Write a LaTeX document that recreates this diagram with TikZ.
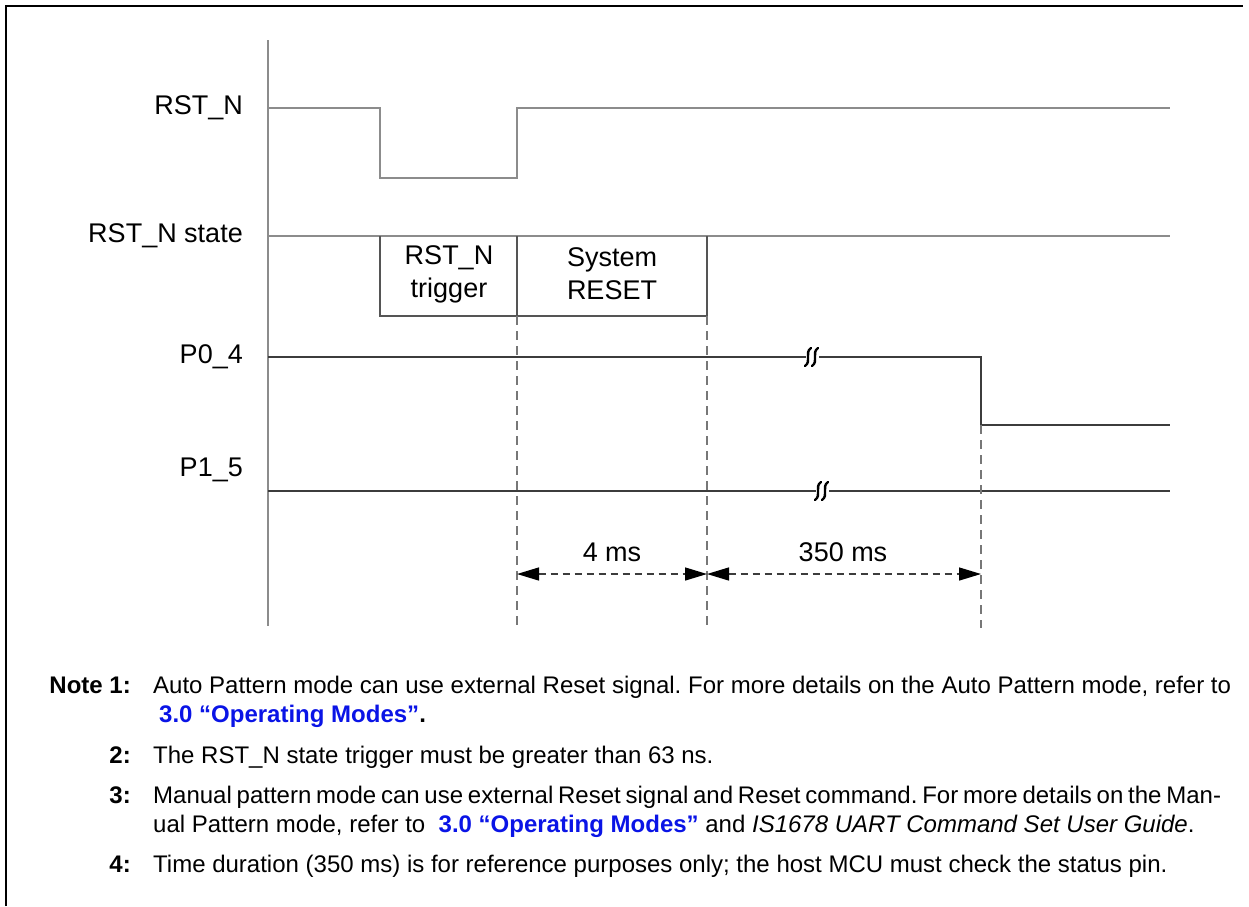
\documentclass[tikz,border=0pt]{standalone}
\usepackage{fontspec}
\setmainfont{Liberation Sans}
\usetikzlibrary{arrows.meta}
\definecolor{siggray}{HTML}{8C8C8C}
\definecolor{sigdark}{HTML}{3C3C3C}
\definecolor{boxgray}{HTML}{555555}
\definecolor{dashgray}{HTML}{777777}
\definecolor{linkblue}{HTML}{0A14E6}
\newcommand{\lnk}[1]{\textbf{\color{linkblue}#1}}
\frenchspacing
\begin{document}
\begin{tikzpicture}[x=1pt,y=-1pt,
  lbl/.style={font=\fontsize{27}{30}\selectfont, inner sep=0pt},
  boxtxt/.style={font=\fontsize{27}{33}\selectfont, align=center, inner sep=0pt},
  notetxt/.style={font=\fontsize{24}{26}\selectfont, inner sep=0pt, anchor=base west},
  notenum/.style={font=\fontsize{24}{26}\selectfont\bfseries, inner sep=0pt, anchor=base east},
  siglight/.style={draw=siggray, line width=1.6},
  sigheavy/.style={draw=sigdark, line width=1.6},
  guide/.style={draw=dashgray, line width=1.6, dash pattern=on 9pt off 6pt},
  dimline/.style={draw=sigdark, line width=1.4, dash pattern=on 7pt off 5pt,
     {Triangle[length=22pt,width=13pt,color=black]}-{Triangle[length=22pt,width=13pt,color=black]}},
  brk/.style={draw=black, line width=2.4, line cap=round}]
\useasboundingbox (0,0) rectangle (1249,906);
% frame
\draw[line width=2.6] (6,906) -- (6,6) -- (1243,6);
% axis
\draw[siglight] (268,40) -- (268,626);
% labels
\node[lbl, anchor=east] (lrst) at (243,108) {RST\_N};
\node[lbl, anchor=east] (lstate) at (243,236) {RST\_N state};
\node[lbl, anchor=east] (lp04) at (243,357) {P0\_4};
\node[lbl, anchor=east] (lp15) at (243,470) {P1\_5};
% RST_N signal
\coordinate (r0) at (268,108);
\coordinate (r1) at (380,108);
\coordinate (r2) at (380,178);
\coordinate (r3) at (517,178);
\coordinate (r4) at (517,108);
\coordinate (r5) at (1170,108);
\draw[siglight] (r0) -- (r1) -- (r2) -- (r3) -- (r4) -- (r5);
% RST_N state
\coordinate (s0) at (268,236);
\coordinate (s1) at (1170,236);
\draw[siglight] (s0) -- (s1);
\draw[draw=boxgray, line width=1.6] (380,236) -- (380,316) -- (707,316) -- (707,236);
\draw[draw=boxgray, line width=1.6] (517,236) -- (517,316);
\node[boxtxt] (trig) at (449,274) {RST\_N\\trigger};
\node[boxtxt] (sysr) at (612,274) {System\\RESET};
% P0_4
\coordinate (p0) at (268,357);
\coordinate (p1) at (981,357);
\coordinate (p2) at (981,425);
\coordinate (p3) at (1170,425);
\draw[sigheavy] (p0) -- (p1) -- (p2) -- (p3);
% P1_5
\coordinate (q0) at (268,491);
\coordinate (q1) at (1170,491);
\draw[sigheavy] (q0) -- (q1);
% break marks
\fill[white] (806,353) rectangle (819,361);
\draw[brk] (805,366) .. controls (812,361) and (804,353) .. (811,348);
\draw[brk] (812,366) .. controls (819,361) and (811,353) .. (818,348);
\fill[white] (816,487) rectangle (829,495);
\draw[brk] (815,500) .. controls (822,495) and (814,487) .. (821,482);
\draw[brk] (822,500) .. controls (829,495) and (821,487) .. (828,482);
% guides
\coordinate (g1t) at (517,316);
\coordinate (g1b) at (517,628);
\coordinate (g2t) at (707,316);
\coordinate (g2b) at (707,628);
\coordinate (g3t) at (981,425);
\coordinate (g3b) at (981,628);
\draw[guide] (g1t) -- (g1b);
\draw[guide] (g2t) -- (g2b);
\draw[guide] (g3t) -- (g3b);
% dimensions
\coordinate (d1) at (517,574);
\coordinate (d2) at (707,574);
\coordinate (d3) at (981,574);
\draw[dimline] (d1) -- (d2);
\draw[dimline] (d2) -- (d3);
\node[lbl] (t4) at (612,552) {4 ms};
\node[lbl] (t350) at (843,552) {350 ms};
% notes
\node[notenum] (n1) at (131,693) {Note 1:};
\node[notetxt] (n1a) at (153,693) {Auto Pattern mode can use external Reset signal. For more details on the Auto Pattern mode, refer to};
\node[notetxt] (n1b) at (159,722) {\lnk{3.0 “Operating Modes”}\textbf{.}};
\node[notenum] (n2) at (131,763) {2:};
\node[notetxt] (n2a) at (153,763) {The RST\_N state trigger must be greater than 63 ns.};
\node[notenum] (n3) at (131,803) {3:};
\node[notetxt] (n3a) at (153,803) {\spaceskip=0.2em Manual pattern mode can use external Reset signal and Reset command. For more details on the Man-};
\node[notetxt] (n3b) at (153,832) {ual Pattern mode, refer to\ \ \lnk{3.0 “Operating Modes”} and \textit{IS1678 UART Command Set User Guide}.};
\node[notenum] (n4) at (131,872) {4:};
\node[notetxt] (n4a) at (153,872) {Time duration (350 ms) is for reference purposes only; the host MCU must check the status pin.};
\end{tikzpicture}
\end{document}
